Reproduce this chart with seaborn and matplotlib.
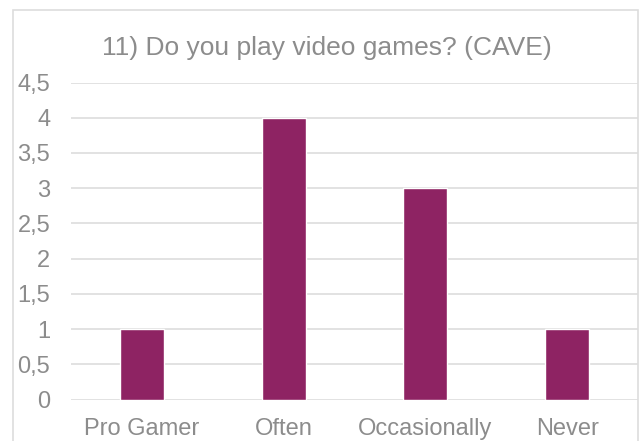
import matplotlib
matplotlib.use("Agg")
import matplotlib.pyplot as plt
from matplotlib.patches import Rectangle
import seaborn as sns
import pandas as pd
import numpy as np

# Survey answers and counts
categories = ["Pro Gamer", "Often", "Occasionally", "Never"]
counts = [1, 4, 3, 1]
y_ticks = [0, 0.5, 1, 1.5, 2, 2.5, 3, 3.5, 4, 4.5]
title = "11) Do you play video games? (CAVE)"

bar_color = "#8E2363"
text_color = "#8C8C8C"
grid_color = "#DDDDDD"

sns.set_theme(style="white")
plt.rcParams["font.family"] = ["Liberation Sans", "DejaVu Sans"]

W, H, DPI = 641, 441, 100
fig = plt.figure(figsize=(W / DPI, H / DPI), dpi=DPI)

# Chart-area frame
fig.patches.append(Rectangle((13 / W, -0.05), (638 - 13) / W, 1.05 - 10 / H,
                             transform=fig.transFigure, fill=False,
                             edgecolor=grid_color, linewidth=1.2))

ax = fig.add_axes([71 / W, 41.5 / H, (638 - 71) / W, (399.5 - 82.5) / H])

df = pd.DataFrame({"answer": categories, "count": counts})
sns.barplot(data=df, x="answer", y="count", color=bar_color, saturation=1,
            width=0.31, ax=ax, zorder=3)

ax.set_ylim(0, 4.5)
ax.set_xlim(-0.5, len(categories) - 0.5)
ax.set_yticks(y_ticks)
ax.set_yticklabels([f"{v:g}".replace(".", ",") for v in y_ticks])
for v in y_ticks:
    ax.axhline(v, color=grid_color, linewidth=1.2, zorder=1)

for s in ax.spines.values():
    s.set_visible(False)
ax.set_xlabel("")
ax.set_ylabel("")
ax.tick_params(axis="both", length=0, labelsize=17, labelcolor=text_color)
ax.tick_params(axis="y", pad=15)
ax.tick_params(axis="x", pad=13.5)

fig.text(327 / W, 1 - 55 / H, title, ha="center", va="baseline",
         fontsize=19, color=text_color)

fig.savefig("out.png", dpi=DPI)
